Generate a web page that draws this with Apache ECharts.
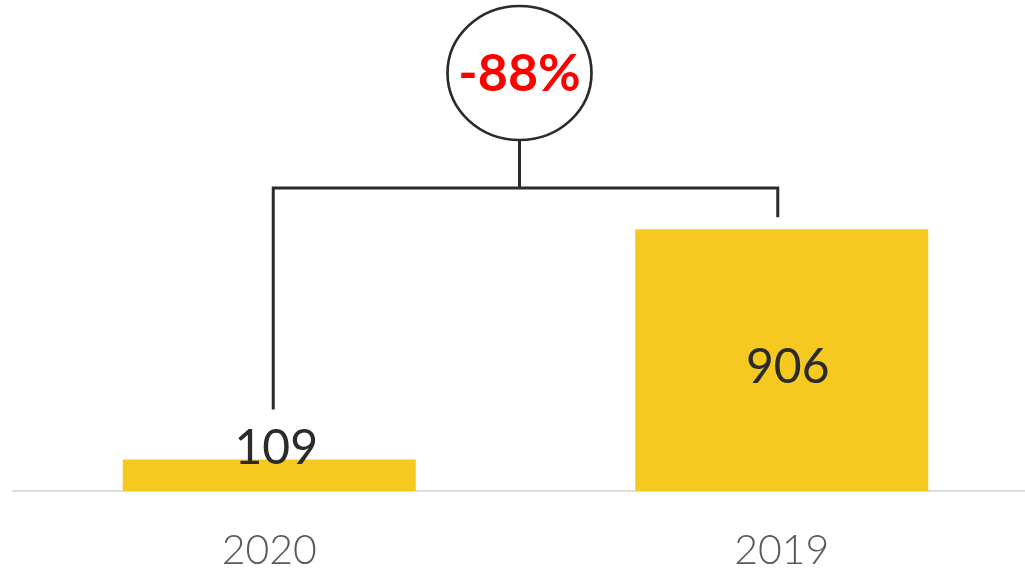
<!DOCTYPE html>
<html>
<head>
<meta charset="utf-8">
<style>
  html, body { margin: 0; padding: 0; background: #fff; }
  #chart { width: 1025px; height: 568px; }
</style>
<script src="https://cdn.jsdelivr.net/npm/echarts@6/dist/echarts.min.js"></script>
</head>
<body>
<div id="chart"></div>
<script>
// Yearly totals
const categories = ['2020', '2019'];
const values = [109, 906];
const changeLabel = '-88%';

const YELLOW = '#F5C920';
const INK = '#2b2b2b';
const FONT = 'Lato, "Open Sans", sans-serif';

const chart = echarts.init(document.getElementById('chart'));

chart.setOption({
  animation: false,
  grid: {
    left: 13, top: 202, width: 1025, bottom: 77,
    containLabel: false,
    outerBoundsMode: 'none'
  },
  xAxis: {
    type: 'category',
    data: categories,
    axisLine: { show: true, lineStyle: { color: '#dcdcdc', width: 2 } },
    axisTick: { show: false },
    axisLabel: {
      color: '#5a5a5a',
      fontFamily: FONT,
      fontSize: 41,
      fontWeight: 300,
      margin: 39
    }
  },
  yAxis: {
    type: 'value',
    min: 0,
    max: 1000,
    show: false,
    splitLine: { show: false }
  },
  series: [{
    type: 'bar',
    barWidth: 293,
    itemStyle: { color: YELLOW },
    data: values.map((v, i) => ({
      value: v,
      label: i === 0
        ? { show: true, position: 'top', distance: -13, offset: [7, 0] }
        : { show: true, position: 'inside', offset: [6, 7] }
    })),
    label: {
      color: INK,
      fontFamily: FONT,
      fontSize: 48,
      fontWeight: 'normal'
    }
  }]
});

// Comparison bracket linking the two bars, with the change badge on top
function drawBracket() {
  const p0 = chart.convertToPixel({ seriesIndex: 0 }, [0, values[0]]);
  const p1 = chart.convertToPixel({ seriesIndex: 0 }, [1, values[1]]);
  const leftX = p0[0] + 4;
  const rightX = p1[0] - 4;
  const barY = 188;
  const midX = (leftX + rightX) / 2 - 6;
  const cy = 73;
  const r = 67;
  const lineStyle = { stroke: INK, lineWidth: 3 };

  chart.setOption({
    graphic: [
      {
        type: 'polyline',
        shape: { points: [[leftX, p0[1] - 50], [leftX, barY], [rightX, barY], [rightX, p1[1] - 12]] },
        style: Object.assign({ fill: null }, lineStyle)
      },
      {
        type: 'line',
        shape: { x1: midX, y1: cy + r, x2: midX, y2: barY },
        style: lineStyle
      },
      {
        type: 'circle',
        x: midX, y: cy,
        scaleX: 72 / 67,
        shape: { cx: 0, cy: 0, r: r },
        style: { fill: '#fff', stroke: INK, lineWidth: 2.5 }
      },
      {
        type: 'text',
        x: midX, y: cy + 1,
        style: {
          text: changeLabel,
          fill: '#ff0000',
          font: 'bold 52px ' + FONT,
          textAlign: 'center',
          textVerticalAlign: 'middle'
        }
      }
    ]
  });
}
drawBracket();
</script>
</body>
</html>
